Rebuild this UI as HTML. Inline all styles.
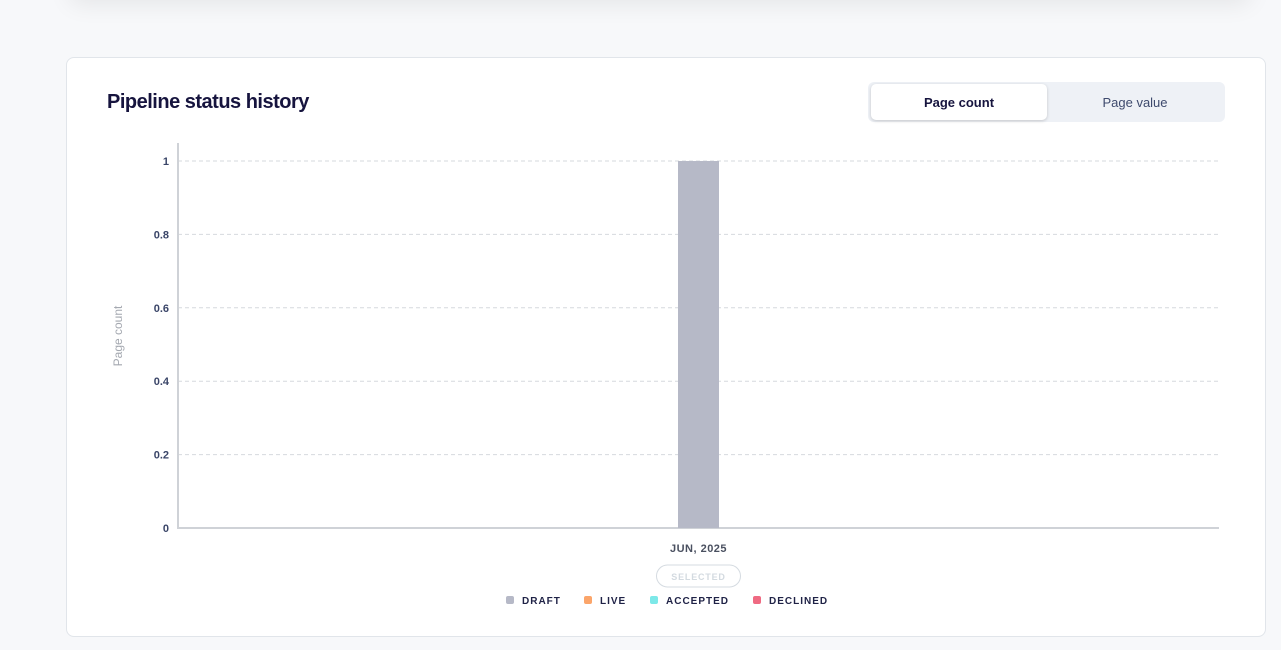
<!DOCTYPE html>
<html><head><meta charset="utf-8">
<style>
*{box-sizing:border-box;margin:0;padding:0}
body{width:1281px;height:650px;background:#f7f8fa;font-family:"Liberation Sans",sans-serif;position:relative;overflow:hidden}
.topcard{position:absolute;left:70px;top:-40px;width:1180px;height:40px;background:#fff;box-shadow:0 4px 24px rgba(0,0,0,0.08);border-radius:8px}
.card{position:absolute;left:66px;top:57px;width:1200px;height:580px;background:#fff;border:1px solid #e1e5ea;border-radius:8px}
.title{position:absolute;left:107px;top:91px;font-size:20px;font-weight:bold;color:#16143e;letter-spacing:-0.5px}
.toggle{position:absolute;left:868px;top:82px;width:357px;height:40px;background:#eef1f6;border-radius:6px}
.btn{position:absolute;top:2px;height:36px;line-height:38px;text-align:center;font-size:13px;border-radius:5px}
.b1{left:3px;width:176px;background:#fff;color:#16143e;font-weight:bold;box-shadow:0 1px 3px rgba(0,0,0,0.18)}
.b2{left:179px;width:176px;color:#3e4a6d}
svg{position:absolute;left:0;top:0}
</style></head><body>
<div class="topcard"></div>
<div class="card"></div>
<div class="title">Pipeline status history</div>
<div class="toggle">
<div class="btn b1">Page count</div>
<div class="btn b2">Page value</div>
</div>
<svg id="chart" width="1281" height="650"></svg>
<script>
const categories=["JUN, 2025"];
const draftValues=[1];
const yTicks=[0,0.2,0.4,0.6,0.8,1];
const yTickLabels=["0","0.2","0.4","0.6","0.8","1"];
const legendLabels=["DRAFT","LIVE","ACCEPTED","DECLINED"];
const legendColors=["#b6b9c7","#fba56a","#7de8e8","#ef6a82"];

const NS="http://www.w3.org/2000/svg";
const svg=document.getElementById('chart');
const X0=178,X1=1219,Y0=528,Y1=161;
const y=v=>Y0-(v/1)*(Y0-Y1);
const band=(X1-X0)/categories.length;
const xc=i=>X0+band*(i+0.5);
function mk(t,a,txt){const e=document.createElementNS(NS,t);for(const k in a)e.setAttribute(k,a[k]);if(txt!=null)e.textContent=txt;svg.appendChild(e);return e;}
yTicks.forEach((v,i)=>{
 if(v>0){const g=mk('line',{x1:X0,x2:X1,y1:y(v),y2:y(v),stroke:'#d6d9de','stroke-dasharray':'4 3'});
 
 }
 const t=mk('text',{x:169,y:y(v)+4,'text-anchor':'end','font-size':11,'font-weight':'bold',fill:'#3a4568','font-family':'Liberation Sans, sans-serif'},yTickLabels[i]);
 
 
});
const ax=mk('line',{x1:X0,x2:X0,y1:143,y2:Y0+1,stroke:'#cfd2d7','stroke-width':2});


const bx=mk('line',{x1:X0,x2:X1,y1:Y0,y2:Y0,stroke:'#cfd2d7','stroke-width':2});


const yt=mk('text',{x:0,y:0,transform:'translate(122,336) rotate(-90)','text-anchor':'middle','font-size':12,fill:'#a4a8b0','font-family':'Liberation Sans, sans-serif'},'Page count');


categories.forEach((c,i)=>{
 const bw=41;
 const b=mk('rect',{x:xc(i)-bw/2,y:y(draftValues[i]),width:bw,height:Y0-y(draftValues[i]),fill:'#b6b9c7'});
 
 
 const l=mk('text',{x:xc(i),y:552,'text-anchor':'middle','font-size':11,'font-weight':'bold',fill:'#4a5060','letter-spacing':'0.5','font-family':'Liberation Sans, sans-serif'},c);
 
 
 const p=mk('rect',{x:xc(i)-42,y:565,width:84,height:22,rx:11,fill:'#fff',stroke:'#d5dbe1'});
 
 
 const pt=mk('text',{x:xc(i),y:580,'text-anchor':'middle','font-size':9,'font-weight':'bold',fill:'#d3dae0','letter-spacing':'0.8','font-family':'Liberation Sans, sans-serif'},'SELECTED');
 
 
});
const legX=[506,584,650,753];
legendLabels.forEach((lb,i)=>{
 const s=mk('rect',{x:legX[i],y:596,width:8,height:8,rx:2,fill:legendColors[i]});
 
 
 const t=mk('text',{x:legX[i]+16,y:604,'font-size':10,'font-weight':'bold',fill:'#1f2246','letter-spacing':'1','font-family':'Liberation Sans, sans-serif'},lb);
 
 
});
</script>
</body></html>
